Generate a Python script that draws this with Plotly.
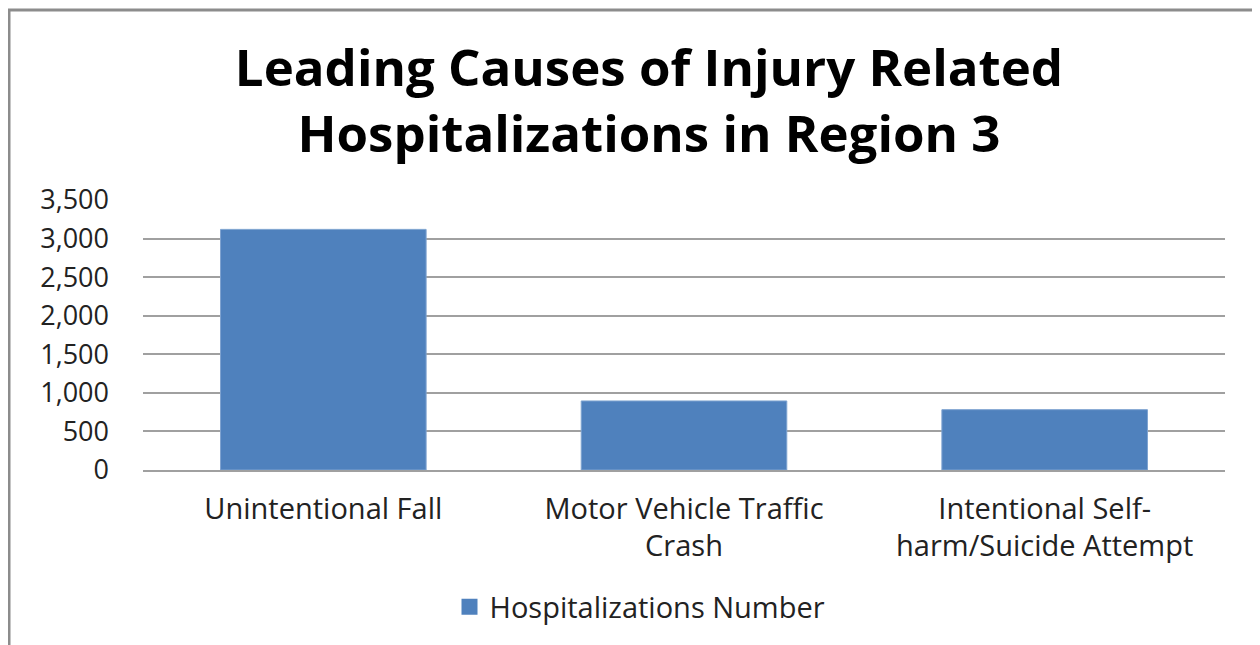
import plotly.graph_objects as go

categories = ["Unintentional Fall", "Motor Vehicle Traffic<br>Crash", "Intentional Self-<br>harm/Suicide Attempt"]
values = [3119, 895, 782]
series_name = "Hospitalizations Number"
y_ticks = [0, 500, 1000, 1500, 2000, 2500, 3000, 3500]
y_tick_labels = ["0", "500", "1,000", "1,500", "2,000", "2,500", "3,000", "3,500"]
title_text = "Leading Causes of Injury Related<br>Hospitalizations in Region 3"

BAR_COLOR = "#4F81BD"
OFF = 8  # page body margin
W, H = 1260 - OFF, 645 - OFF
# plot area in screenshot pixels: x 143..1225, y 200..470
L, T = 143 - OFF, 200 - OFF
R = W - (1225 - OFF)
B = H - (470 - OFF)
pw = W - L - R
ph = H - T - B

fig = go.Figure()
fig.add_trace(go.Bar(
    x=categories, y=values, name=series_name,
    marker=dict(color=BAR_COLOR, line=dict(color="#7EA3D0", width=1)),
    showlegend=False, legendgroup="h",
))
# legend entry with a larger square swatch
fig.add_trace(go.Scatter(
    x=[None], y=[None], mode="markers", name=series_name, legendgroup="h",
    marker=dict(symbol="square", size=20, color=BAR_COLOR), showlegend=True,
))

def px2x(px):
    return (px - OFF - L) / pw

def py2y(py):
    return (H - B - (py - OFF)) / ph

fig.update_layout(
    width=W, height=H,
    margin=dict(l=L, r=R, t=T, b=B, autoexpand=False),
    paper_bgcolor="white", plot_bgcolor="white",
    font=dict(family="Open Sans", color="#222222", size=22),
    title=dict(text=title_text, x=(649 - OFF) / W, xanchor="center", xref="container",
               y=1 - 78 / H, yanchor="top", yref="container",
               font=dict(family="Open Sans", size=51, color="#000000", weight="bold")),
    bargap=0.43,
    showlegend=True,
    legend=dict(orientation="h", x=(640 - OFF) / W, xanchor="center", xref="container",
                y=1 - (607 - OFF) / H, yanchor="middle", yref="container",
                font=dict(size=29, color="#222222"), itemwidth=30),
    xaxis=dict(showgrid=False, showline=True, linecolor="#A0A0A0", linewidth=1.5,
               ticks="", tickfont=dict(size=29), ticklabelstandoff=12, fixedrange=True),
    yaxis=dict(range=[0, 3500], tickvals=y_ticks, ticktext=y_tick_labels,
               showgrid=True, gridcolor="#A0A0A0", gridwidth=1.5, zeroline=False,
               showline=False, ticks="", tickfont=dict(size=27), ticklabelstandoff=33),
    shapes=[dict(type="rect", xref="paper", yref="paper",
                 x0=px2x(9), x1=px2x(1275), y0=py2y(670), y1=py2y(10),
                 line=dict(color="#8C8C8C", width=3), fillcolor="rgba(0,0,0,0)", layer="below")],
)

fig.write_html("out.html")
